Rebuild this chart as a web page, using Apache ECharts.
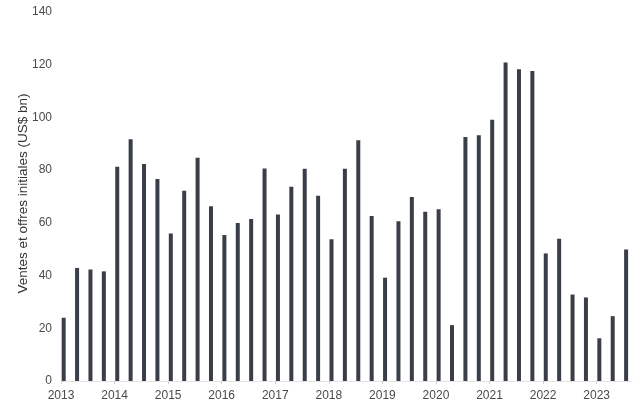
<!DOCTYPE html>
<html>
<head>
<meta charset="utf-8">
<script src="https://cdn.jsdelivr.net/npm/echarts@6/dist/echarts.min.js"></script>
<style>html,body{margin:0;padding:0;background:#fff}#c{width:640px;height:408px}</style>
</head>
<body>
<div id="c"></div>
<script>
// Quarterly periods (year, quarter)
const years = [2013,2014,2015,2016,2017,2018,2019,2020,2021,2022,2023];
const quarterValues = {
  2013: [24.0, 42.9, 42.3, 41.6],
  2014: [81.3, 91.7, 82.3, 76.6],
  2015: [56.0, 72.2, 84.7, 66.3],
  2016: [55.4, 59.9, 61.5, 80.6],
  2017: [63.2, 73.7, 80.5, 70.3],
  2018: [53.8, 80.5, 91.3, 62.6],
  2019: [39.2, 60.6, 69.8, 64.2],
  2020: [65.2, 21.2, 92.6, 93.2],
  2021: [99.1, 120.8, 118.3, 117.6],
  2022: [48.4, 54.0, 32.8, 31.7],
  2023: [16.2, 24.6, 49.9]
};
const yTicks = [0,20,40,60,80,100,120,140];
const yTitle = 'Ventes et offres initiales (US$ bn)';

const data = [];
years.forEach(y => {
  quarterValues[y].forEach((v, q) => data.push([y + q * 0.25 + 0.05, v]));
});

const chart = echarts.init(document.getElementById('c'), null, {renderer: 'canvas'});
chart.setOption({
  animation: false,
  backgroundColor: '#ffffff',
  grid: {left: 61, right: 8, top: 12, bottom: 27, containLabel: false},
  xAxis: {
    type: 'value',
    min: 2013, max: 2023.66, interval: 1,
    splitLine: {show: false},
    axisLine: {show: true, lineStyle: {color: '#e3e3e3', width: 1}},
    axisTick: {show: true, length: 3, lineStyle: {color: '#d0d0d0'}},
    axisLabel: {
      color: '#4a4a4a', fontSize: 12, fontFamily: 'Liberation Sans, Arial, sans-serif', margin: 9,
      formatter: v => (Number.isInteger(v) ? String(v) : ''),
      showMaxLabel: false
    }
  },
  yAxis: {
    type: 'value',
    min: yTicks[0], max: yTicks[yTicks.length - 1], interval: 20,
    splitLine: {show: false},
    axisLine: {show: false},
    axisTick: {show: false},
    axisLabel: {color: '#4a4a4a', fontSize: 12, fontFamily: 'Liberation Sans, Arial, sans-serif', margin: 9},
    name: yTitle,
    nameLocation: 'middle',
    nameGap: 31,
    nameMoveOverlap: false,
    nameTextStyle: {color: '#333', fontSize: 13.5, fontFamily: 'Liberation Sans, Arial, sans-serif', padding: [0, 0, 0, 6]}
  },
  series: [{
    type: 'bar',
    data: data,
    barWidth: 4,
    itemStyle: {color: '#3a3e48'},
    emphasis: {disabled: true}
  }]
});
</script>
</body>
</html>
